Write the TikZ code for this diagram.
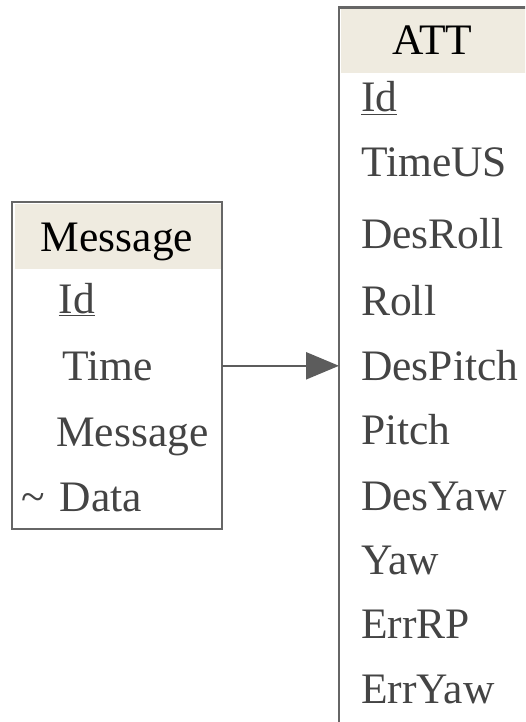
\documentclass[tikz,border=0pt]{standalone}
\usepackage{fontspec}
\setmainfont{Liberation Serif}
\usetikzlibrary{arrows.meta}
\definecolor{hdrfill}{HTML}{EFEBE0}
\definecolor{rimgray}{HTML}{666666}
\definecolor{fieldgray}{HTML}{444444}
\tikzset{
  tablebox/.style={draw=rimgray, line width=2.4pt, inner sep=0pt, outer sep=0pt, anchor=north west},
  headfill/.style={fill=hdrfill, inner sep=0pt, outer sep=0pt, anchor=north west},
  headtext/.style={anchor=base, inner sep=0pt, text=black},
  field/.style={anchor=base west, inner sep=0pt, text=fieldgray},
  link/.style={draw=rimgray!90!black, line width=2.4pt, -{Triangle[length=33pt,width=27pt]}},
}
\begin{document}
\begin{tikzpicture}[x=1pt, y=-1pt, font=\fontsize{43.5}{52}\selectfont]
      \path[use as bounding box, clip] (0,0) rectangle (525,722);
      % header backgrounds
      \node[headfill, minimum width=207pt, minimum height=65pt] (msgfill) at (14.5,204) {};
      \node[headfill, minimum width=186pt, minimum height=64pt] (attfill) at (341,9.5) {};
      % table outlines
      \node[tablebox, minimum width=210pt, minimum height=327pt] (message) at (12,202) {};
      \node[tablebox, minimum width=188pt, minimum height=760pt] (att) at (339,7.5) {};
      % Message
      \node[headtext] (msghead) at (117,251) {Message};
      \node[field] (msgid) at (58.5,313) {\underline{Id}};
      \node[field] (msgtime) at (62.5,380) {Time};
      \node[field] (msgmsg) at (56,446) {Message};
      \node[field] (msgtilde) at (21.5,511) {\textasciitilde};
      \node[field] (msgdata) at (59.5,511) {Data};
      % ATT
      \node[headtext] (atthead) at (432.5,55) {ATT};
      \node[field] (attid) at (361,112) {\underline{Id}};
      \node[field] (atttimeus) at (361,177) {TimeUS};
      \node[field] (attdesroll) at (361,248) {DesRoll};
      \node[field] (attroll) at (361,315) {Roll};
      \node[field] (attdespitch) at (361,380) {DesPitch};
      \node[field] (attpitch) at (361,444) {Pitch};
      \node[field] (attdesyaw) at (361,510) {DesYaw};
      \node[field] (attyaw) at (361,574) {Yaw};
      \node[field] (atterrrp) at (361,638) {ErrRP};
      \node[field] (atterryaw) at (361,703) {ErrYaw};
      \draw[link] (message.east |- msgtime) -- (att.west |- msgtime);
    \end{tikzpicture}
\end{document}
